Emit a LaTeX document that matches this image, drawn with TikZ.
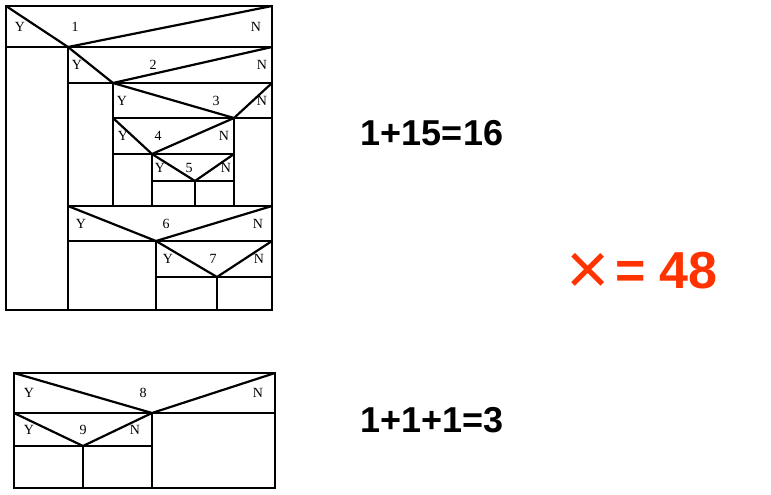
\documentclass[tikz,border=0pt]{standalone}
\usepackage{fontspec}
\setmainfont{Liberation Serif}
\newfontfamily\arialfont{Liberation Sans}
\definecolor{redorange}{RGB}{255,51,0}
\begin{document}
\begin{tikzpicture}[x=1pt,y=-1pt,
  thin line/.style={line width=1.1pt},
  thick line/.style={line width=2.2pt},
  lbl/.style={font=\fontsize{14}{14}\selectfont, inner sep=0pt, anchor=center},
  eq/.style={font=\arialfont\bfseries\fontsize{36}{36}\selectfont, inner sep=0pt, anchor=center},
  line join=miter]
\useasboundingbox (0,0) rectangle (771,495);
% ===== top structogram =====
\draw[thin line] (6,6) rectangle (272,310);
\draw[thin line] (6,47) -- (68,47);
\draw[thick line] (68,47) -- (272,47);
\draw[thick line] (6,6) -- (68,47) -- (272,6);
\draw[thick line] (68,47) -- (68,310);
% 2
\draw[thick line] (68,83) -- (272,83);
\draw[thick line] (68,47) -- (113,83) -- (272,47);
\draw[thick line] (113,83) -- (113,206);
% 3
\draw[thick line] (113,118) -- (272,118);
\draw[thick line] (113,83) -- (234,118) -- (272,83);
\draw[thin line] (234,118) -- (234,206);
% 4
\draw[thick line] (113,154) -- (234,154);
\draw[thick line] (113,118) -- (152,154) -- (234,118);
\draw[thick line] (152,154) -- (152,206);
% 5
\draw[thick line] (152,181) -- (234,181);
\draw[thick line] (152,154) -- (195,181) -- (234,154);
\draw[thin line] (195,181) -- (195,206);
% 6
\draw[thin line] (68,206) -- (272,206);
\draw[thick line] (68,241) -- (272,241);
\draw[thick line] (68,206) -- (156,241) -- (272,206);
\draw[thick line] (156,241) -- (156,310);
% 7
\draw[thick line] (156,277) -- (272,277);
\draw[thick line] (156,241) -- (217,277) -- (272,241);
\draw[thick line] (217,277) -- (217,310);
% labels
\node[lbl] (y1) at (20,27) {Y}; \node[lbl] (c1) at (75,27) {1}; \node[lbl] (n1) at (256,27) {N};
\node[lbl] (y2) at (77,65) {Y}; \node[lbl] (c2) at (153,65) {2}; \node[lbl] (n2) at (262,65) {N};
\node[lbl] (y3) at (122,101) {Y}; \node[lbl] (c3) at (216,101) {3}; \node[lbl] (n3) at (262,101) {N};
\node[lbl] (y4) at (123,136) {Y}; \node[lbl] (c4) at (158,136) {4}; \node[lbl] (n4) at (224,136) {N};
\node[lbl] (y5) at (160,168) {Y}; \node[lbl] (c5) at (189,168) {5}; \node[lbl] (n5) at (226,168) {N};
\node[lbl] (y6) at (81,224) {Y}; \node[lbl] (c6) at (166,224) {6}; \node[lbl] (n6) at (258,224) {N};
\node[lbl] (y7) at (168,259) {Y}; \node[lbl] (c7) at (213,259) {7}; \node[lbl] (n7) at (259,259) {N};
% ===== bottom structogram =====
\draw[thin line] (14,373) rectangle (275,488);
\draw[thin line] (14,413) -- (152,413);
\draw[thick line] (152,413) -- (275,413);
\draw[thick line] (14,373) -- (152,413) -- (275,373);
\draw[thick line] (14,446) -- (152,446);
\draw[thick line] (14,413) -- (83,446) -- (152,413);
\draw[thick line] (83,446) -- (83,488);
\draw[thin line] (152,413) -- (152,488);
\node[lbl] (y8) at (29,393) {Y}; \node[lbl] (c8) at (143,393) {8}; \node[lbl] (n8) at (258,393) {N};
\node[lbl] (y9) at (29,430) {Y}; \node[lbl] (c9) at (83,430) {9}; \node[lbl] (n9) at (135,430) {N};
% ===== formulas =====
\node[eq] (f1) at (432,133) {1+15=16};
\node[eq] (f2) at (432,420) {1+1+1=3};
\node[font=\arialfont\fontsize{74}{74}\selectfont, text=redorange, inner sep=0pt] (cross) at (588,274) {×};
\node[font=\arialfont\bfseries\fontsize{52}{52}\selectfont, text=redorange, inner sep=0pt, anchor=west] (res) at (615,271) {= 48};
\end{tikzpicture}
\end{document}
